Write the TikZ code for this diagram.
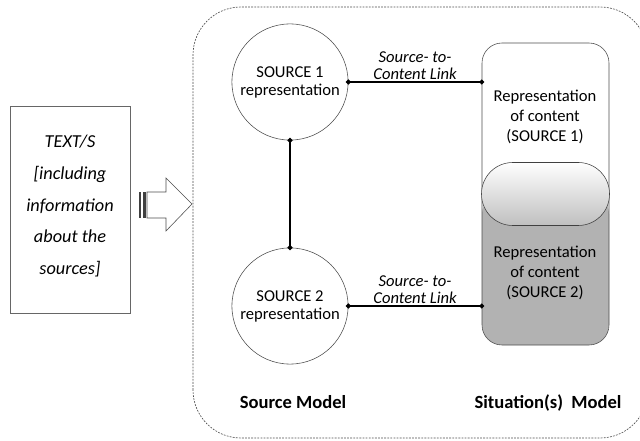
\documentclass[tikz,border=0pt]{standalone}
\usepackage{fontspec}
\setmainfont{Carlito}
\usetikzlibrary{arrows.meta,positioning}

\begin{document}
\begin{tikzpicture}[
        srcnode/.style = {circle, draw=black!70, thin, minimum size=2.8cm, align=center,
                          font=\fontsize{11.8}{12.8}\selectfont},
        pill/.style = {draw=black!70, thin, rounded corners=0.5cm, minimum width=3.175cm,
                       minimum height=7.55cm},
        contenttext/.style = {align=center, font=\fontsize{11.8}{14}\selectfont},
        link/.style = {thick, {Circle[length=3.5pt]}-{Circle[length=3.5pt]},
                       shorten <=-1.75pt, shorten >=-1.75pt},
        linklabel/.style = {above, align=center, inner sep=1.5pt,
                            font=\fontsize{11.8}{12}\selectfont\itshape},
        modellabel/.style = {font=\fontsize{13.2}{15}\selectfont\bfseries}
    ]

                \useasboundingbox (0,0) rectangle (16,11);
                \clip (0,0) rectangle (16,11);
                \draw [black!70, line width=0.45pt, dash pattern=on 1.3pt off 0.9pt, rounded corners=1.2cm]
                      (4.825,0.05) rectangle (16.2,10.825);

                \node (texts) at (1.75,5.7625) [draw=black!60, minimum width=3cm, minimum height=5.175cm] {};
                \node at (1.75,5.85) [align=center, font=\fontsize{13}{22.7}\selectfont\itshape]
                      {TEXT/S\\{[}including\\information\\about the\\sources{]}};

                \fill[black!75] (3.475,5.55) rectangle (3.53,6.2);
                \fill[black!75] (3.57,5.55) rectangle (3.64,6.2);
                \draw [black!70, thin] (3.675,5.55) -- (4.15,5.55) -- (4.15,5.225) -- (4.8,5.9)
                      -- (4.15,6.55) -- (4.15,6.2) -- (3.675,6.2) -- cycle;

                \node (src1) at (7.25,8.95) [srcnode] {SOURCE 1\\representation};
                \node (src2) at (7.25,3.35) [srcnode] {SOURCE 2\\representation};

                \node (content) at (13.6375,6.15) [pill, path picture={
                      \fill[black!30] (path picture bounding box.west) rectangle
                                      (path picture bounding box.south east);}] {};
                \node (blend) at (content.center) [draw=black!75, thin, rounded corners=0.78cm,
                      minimum width=3.2cm, minimum height=1.575cm,
                      top color=white, middle color=black!8, bottom color=black!25] {};

                \node at (13.625,8.075) [contenttext] {Representation\\of content\\(SOURCE 1)};
                \node at (13.625,4.175) [contenttext] {Representation\\of content\\(SOURCE 2)};

                \draw [link] (src1.south) -- (src2.north);
                \draw [link] (src1.east) -- (src1.east -| content.west)
                      node [linklabel, midway] {Source- to-\\Content Link};
                \draw [link] (src2.east) -- (src2.east -| content.west)
                      node [linklabel, midway] {Source- to-\\Content Link};

                \node at (7.325,0.95) [modellabel] {Source Model};
                \node at (13.7,0.925) [modellabel] {Situation(s)~~Model};
            \end{tikzpicture}
\end{document}
